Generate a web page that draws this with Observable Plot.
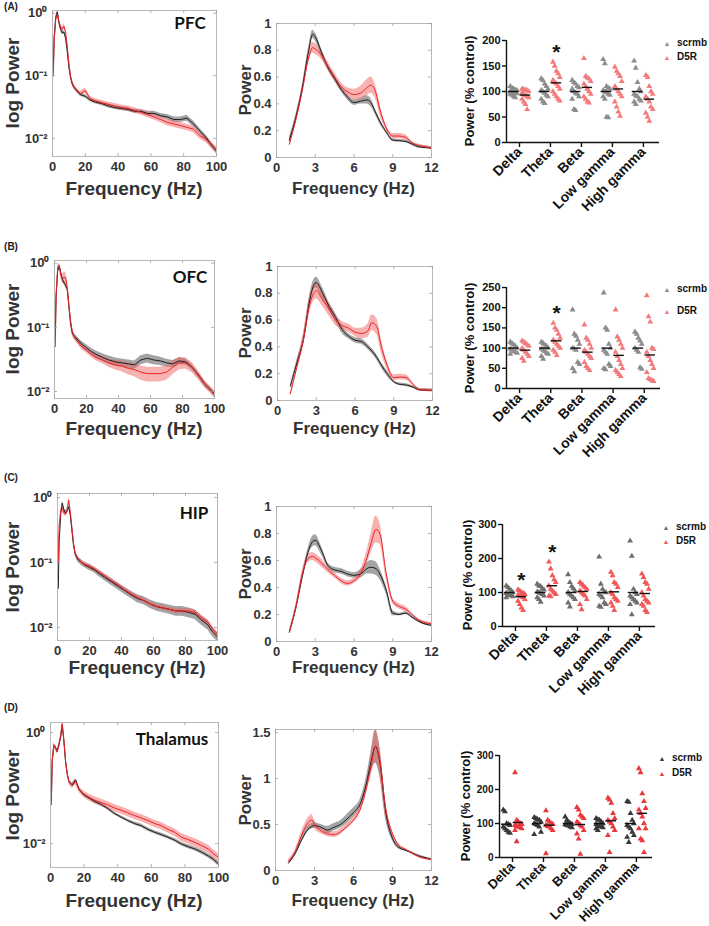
<!DOCTYPE html>
<html><head><meta charset="utf-8">
<script src="https://cdn.jsdelivr.net/npm/d3@7"></script>
<script src="https://cdn.jsdelivr.net/npm/@observablehq/plot@0.6"></script>
<style>
body{margin:0;background:#fff;}
#fig{position:relative;width:709px;height:926px;overflow:hidden;background:#fff;}
</style></head><body><div id="fig"></div>
<script>
// ---------- DATA ----------
const bandNames = ["Delta","Theta","Beta","Low gamma","High gamma"];
const regionNames = ["PFC","OFC","HIP","Thalamus"];
const panelLetters = ["(A)","(B)","(C)","(D)"];
const groupNames = ["scrmb","D5R"];

const logFreq = [0.5,1,2,3,4,5,6,7,8,9,10,11,12,13,15,17,20,23,26,30,34,38,42,46,50,54,58,62,66,70,74,78,82,86,90,94,97,100];
const linFreq = [1,1.5,2,2.5,2.8,3,3.5,4,4.5,5,5.5,6,6.5,7,7.3,7.7,8,8.5,9,9.5,10,10.5,11,11.5,12];

// log spectra (mean, relative SEM)
const pfcLogScr = [0.12,0.4,0.85,1.05,0.7,0.55,0.48,0.5,0.4,0.25,0.14,0.095,0.075,0.066,0.057,0.05,0.047,0.041,0.038,0.036,0.033,0.031,0.030,0.029,0.027,0.027,0.025,0.025,0.023,0.022,0.020,0.020,0.021,0.017,0.013,0.010,0.0078,0.0063];
const pfcLogScrSem = [0.05,0.05,0.06,0.06,0.06,0.06,0.06,0.06,0.06,0.06,0.06,0.06,0.06,0.06,0.06,0.06,0.06,0.06,0.06,0.07,0.07,0.07,0.07,0.07,0.07,0.07,0.08,0.08,0.08,0.09,0.10,0.10,0.11,0.11,0.10,0.10,0.10,0.10];
const pfcLogD5r = [0.1,0.35,0.8,0.95,0.72,0.6,0.55,0.62,0.5,0.3,0.16,0.1,0.078,0.068,0.058,0.052,0.058,0.043,0.040,0.037,0.035,0.033,0.031,0.030,0.028,0.026,0.024,0.022,0.020,0.018,0.017,0.016,0.015,0.014,0.011,0.0095,0.0078,0.0065];
const pfcLogD5rSem = [0.08,0.08,0.08,0.08,0.08,0.08,0.09,0.10,0.10,0.08,0.08,0.08,0.08,0.08,0.08,0.08,0.10,0.08,0.08,0.09,0.09,0.09,0.10,0.10,0.10,0.10,0.10,0.11,0.11,0.12,0.12,0.12,0.12,0.12,0.12,0.12,0.12,0.12];

const ofcLogScr = [0.08,0.3,0.75,0.92,0.7,0.55,0.5,0.45,0.4,0.22,0.12,0.085,0.075,0.07,0.062,0.055,0.048,0.042,0.038,0.034,0.031,0.029,0.028,0.027,0.026,0.031,0.033,0.031,0.030,0.028,0.027,0.030,0.029,0.024,0.018,0.013,0.011,0.0092];
const ofcLogScrSem = [0.08,0.08,0.08,0.08,0.08,0.08,0.08,0.08,0.08,0.08,0.1,0.1,0.1,0.1,0.1,0.1,0.12,0.12,0.13,0.14,0.15,0.15,0.15,0.15,0.15,0.16,0.16,0.16,0.15,0.14,0.13,0.12,0.11,0.1,0.1,0.1,0.1,0.1];
const ofcLogD5r = [0.05,0.3,0.85,0.9,0.65,0.58,0.6,0.6,0.42,0.22,0.13,0.09,0.075,0.068,0.058,0.05,0.044,0.038,0.034,0.031,0.028,0.026,0.025,0.023,0.022,0.020,0.019,0.019,0.019,0.020,0.024,0.028,0.028,0.024,0.018,0.013,0.011,0.009];
const ofcLogD5rSem = [0.1,0.1,0.1,0.1,0.12,0.15,0.2,0.22,0.18,0.12,0.1,0.1,0.1,0.1,0.1,0.1,0.1,0.1,0.12,0.13,0.15,0.17,0.19,0.21,0.23,0.25,0.26,0.26,0.26,0.25,0.24,0.22,0.2,0.18,0.15,0.13,0.12,0.12];

const hipLogScr = [0.04,0.2,0.55,0.82,0.65,0.58,0.62,0.72,0.55,0.32,0.19,0.14,0.12,0.11,0.1,0.092,0.084,0.077,0.068,0.058,0.05,0.043,0.037,0.032,0.028,0.026,0.023,0.021,0.020,0.019,0.018,0.018,0.017,0.016,0.013,0.011,0.0085,0.0072];
const hipLogScrSem = [0.1,0.1,0.08,0.08,0.08,0.08,0.08,0.08,0.08,0.08,0.08,0.08,0.09,0.09,0.1,0.1,0.1,0.1,0.11,0.11,0.12,0.12,0.13,0.13,0.14,0.14,0.15,0.15,0.16,0.16,0.17,0.17,0.17,0.17,0.17,0.17,0.16,0.15];
const hipLogD5r = [0.1,0.35,0.62,0.68,0.58,0.55,0.62,0.92,0.6,0.35,0.2,0.14,0.125,0.115,0.1,0.094,0.088,0.08,0.071,0.061,0.052,0.045,0.038,0.033,0.029,0.026,0.023,0.021,0.020,0.019,0.018,0.018,0.018,0.017,0.014,0.012,0.0095,0.0078];
const hipLogD5rSem = [0.08,0.08,0.07,0.07,0.07,0.07,0.07,0.08,0.08,0.07,0.07,0.07,0.07,0.07,0.07,0.07,0.08,0.08,0.08,0.08,0.08,0.08,0.08,0.08,0.08,0.08,0.08,0.08,0.08,0.08,0.09,0.09,0.09,0.09,0.1,0.1,0.1,0.1];

const thalLogScr = [0.06,0.3,0.58,0.55,0.45,0.6,0.8,1.35,0.7,0.3,0.18,0.13,0.12,0.115,0.14,0.095,0.075,0.066,0.058,0.051,0.043,0.035,0.030,0.026,0.023,0.021,0.018,0.016,0.0145,0.013,0.0115,0.0098,0.0088,0.008,0.007,0.006,0.0052,0.0043];
const thalLogScrSem = [0.06,0.06,0.06,0.06,0.06,0.06,0.06,0.06,0.06,0.06,0.06,0.06,0.06,0.06,0.06,0.06,0.06,0.06,0.06,0.06,0.06,0.06,0.06,0.06,0.07,0.07,0.07,0.07,0.07,0.07,0.07,0.08,0.08,0.08,0.08,0.08,0.08,0.08];
const thalLogD5r = [0.05,0.3,0.6,0.52,0.45,0.58,0.85,1.45,0.72,0.3,0.18,0.13,0.12,0.11,0.13,0.095,0.077,0.068,0.061,0.055,0.05,0.044,0.040,0.036,0.032,0.029,0.026,0.023,0.021,0.018,0.016,0.013,0.0118,0.0105,0.0092,0.008,0.0066,0.0056];
const thalLogD5rSem = [0.1,0.1,0.1,0.1,0.1,0.1,0.1,0.1,0.1,0.1,0.1,0.1,0.12,0.12,0.12,0.12,0.13,0.14,0.15,0.15,0.15,0.15,0.15,0.15,0.15,0.15,0.15,0.15,0.15,0.15,0.16,0.16,0.16,0.17,0.17,0.17,0.18,0.18];

// linear spectra 1-12 Hz (mean, SEM)
const pfcLinScr = [0.13,0.3,0.52,0.8,0.92,0.9,0.78,0.67,0.59,0.51,0.45,0.41,0.42,0.43,0.41,0.33,0.27,0.19,0.13,0.125,0.12,0.1,0.08,0.075,0.07];
const pfcLinScrSem = [0.02,0.02,0.02,0.03,0.03,0.03,0.03,0.02,0.02,0.02,0.02,0.02,0.02,0.03,0.03,0.02,0.02,0.01,0.01,0.01,0.01,0.01,0.01,0.01,0.01];
const pfcLinD5r = [0.1,0.28,0.5,0.75,0.82,0.81,0.76,0.68,0.6,0.53,0.49,0.47,0.48,0.52,0.54,0.48,0.36,0.22,0.16,0.16,0.15,0.11,0.09,0.08,0.07];
const pfcLinD5rSem = [0.02,0.02,0.03,0.04,0.04,0.04,0.03,0.03,0.03,0.03,0.03,0.04,0.05,0.06,0.06,0.05,0.04,0.02,0.02,0.02,0.02,0.01,0.01,0.01,0.01];

const ofcLinScr = [0.107,0.28,0.45,0.75,0.86,0.88,0.8,0.7,0.62,0.53,0.48,0.45,0.44,0.4,0.37,0.32,0.27,0.2,0.14,0.12,0.115,0.1,0.08,0.077,0.075];
const ofcLinScrSem = [0.01,0.02,0.03,0.04,0.04,0.04,0.04,0.03,0.03,0.03,0.02,0.02,0.02,0.02,0.02,0.02,0.02,0.02,0.01,0.01,0.01,0.01,0.01,0.01,0.01];
const ofcLinD5r = [0.05,0.25,0.45,0.72,0.8,0.82,0.75,0.68,0.6,0.56,0.54,0.51,0.5,0.52,0.58,0.55,0.42,0.26,0.17,0.175,0.17,0.12,0.08,0.077,0.075];
const ofcLinD5rSem = [0.01,0.03,0.05,0.06,0.06,0.06,0.05,0.05,0.04,0.03,0.03,0.03,0.04,0.05,0.06,0.06,0.05,0.03,0.02,0.02,0.02,0.01,0.01,0.01,0.01];

const hipLinScr = [0.07,0.25,0.48,0.68,0.74,0.75,0.67,0.56,0.53,0.52,0.5,0.49,0.5,0.54,0.55,0.54,0.5,0.38,0.21,0.2,0.21,0.18,0.15,0.13,0.12];
const hipLinScrSem = [0.01,0.02,0.02,0.03,0.04,0.04,0.03,0.02,0.02,0.02,0.02,0.02,0.03,0.04,0.05,0.05,0.04,0.03,0.02,0.01,0.01,0.01,0.01,0.01,0.01];
const hipLinD5r = [0.07,0.25,0.5,0.62,0.63,0.62,0.58,0.53,0.49,0.45,0.43,0.45,0.5,0.62,0.72,0.83,0.8,0.5,0.3,0.26,0.24,0.2,0.16,0.14,0.13];
const hipLinD5rSem = [0.01,0.02,0.03,0.03,0.03,0.03,0.03,0.02,0.02,0.02,0.02,0.02,0.03,0.05,0.07,0.1,0.08,0.04,0.02,0.02,0.02,0.01,0.01,0.01,0.01];

const thalLinScr = [0.08,0.18,0.33,0.45,0.48,0.49,0.47,0.44,0.47,0.5,0.56,0.63,0.72,0.95,1.15,1.35,1.2,0.62,0.35,0.25,0.22,0.19,0.16,0.14,0.12];
const thalLinScrSem = [0.01,0.02,0.03,0.03,0.03,0.03,0.03,0.04,0.04,0.04,0.05,0.05,0.05,0.07,0.1,0.18,0.16,0.08,0.03,0.02,0.01,0.01,0.01,0.01,0.01];
const thalLinD5r = [0.1,0.2,0.38,0.52,0.55,0.5,0.43,0.4,0.39,0.42,0.48,0.55,0.66,0.9,1.1,1.35,1.22,0.65,0.4,0.27,0.23,0.19,0.15,0.13,0.12];
const thalLinD5rSem = [0.02,0.02,0.04,0.05,0.06,0.05,0.03,0.03,0.03,0.03,0.03,0.03,0.04,0.06,0.1,0.18,0.16,0.08,0.03,0.02,0.01,0.01,0.01,0.01,0.01];

// band power (% control), individual animals, per band
const pfcScrPts = [[110,107,105,103,102,100,99,98,97,96,95,93,90,88],[125,122,115,110,105,102,100,97,93,90,85,80,77],[122,118,115,110,108,105,100,97,95,90,85,65,63],[163,155,110,107,105,102,100,98,95,93,90,85,50,49],[160,146,118,105,100,95,92,90,85,82,80,75]];
const pfcD5rPts = [[105,104,103,102,100,97,95,92,90,88,85,80,75,65],[158,150,140,135,128,122,118,115,110,105,100,95,90,85,82],[165,130,127,125,120,115,110,105,100,95,90,85,80,78],[148,140,135,130,120,110,105,100,95,90,80,70,60,52],[132,128,110,100,95,90,85,80,70,65,58,50,42]];
const pfcScrMean = [100,100,100,100,100];
const pfcD5rMean = [93,117,108,105,85];
const pfcSig = [0,1,0,0,0];

const ofcScrPts = [[115,112,108,105,100,98,95,92,90,88,85],[115,112,108,105,100,98,95,92,88,85,80,73],[195,135,130,120,110,100,98,95,65,60,50,42],[237,150,145,110,100,95,90,85,60,55,50,47],[140,135,125,118,110,100,95,90,52,48]];
const ofcD5rPts = [[118,115,112,108,105,100,95,90,85,80,75,68],[162,150,145,135,125,120,115,110,105,100,95,90,82],[158,125,120,110,100,95,90,85,80,75,65,55,50,45],[195,128,120,110,100,90,80,70,60,50,45,40,35,30],[230,178,165,100,97,90,80,70,60,50,40,25,22,20,18]];
const ofcScrMean = [100,100,100,100,100];
const ofcD5rMean = [95,118,90,82,83];
const ofcSig = [0,1,0,0,0];

const hipScrPts = [[120,115,110,105,100,98,95,92,90,88,85],[125,120,118,112,108,102,100,98,95,90,85,80,72],[153,130,118,112,105,100,95,90,85,80,70,58],[205,125,110,102,100,95,90,85,70,65,60,57],[252,207,110,100,95,90,85,80,75,70,65,35]];
const hipD5rPts = [[108,105,100,98,95,92,90,88,85,80,75,65,55,48],[190,170,150,138,130,120,110,105,100,95,90,88],[130,125,120,115,110,105,100,95,90,80,65,50],[160,150,130,125,115,100,95,85,80,75,70,60,48],[155,145,130,125,110,100,90,80,75,70,65,60,48,42]];
const hipScrMean = [100,100,100,100,100];
const hipD5rMean = [88,120,103,102,97];
const hipSig = [1,1,0,0,0];

const thalScrPts = [[140,135,100,98,95,90,85,80,75,72],[118,115,112,110,105,100,98,95,90,75,68],[120,110,105,100,98,97,95,93,90,88],[115,112,110,105,100,98,95,92,90,88,85,80],[165,163,130,110,100,95,90,85,75,65,60,45]];
const thalD5rPts = [[250,110,105,100,98,95,92,90,88,85,80,47],[138,110,105,100,98,95,92,90,85,80,12],[148,140,125,120,115,105,100,95,90,80,70,55,10],[175,170,160,130,115,110,105,100,90,80,65,15],[262,250,188,165,145,140,130,120,100,85,85,55,50,15]];
const thalScrMean = [98,100,100,100,100];
const thalD5rMean = [103,95,97,108,130];
const thalSig = [0,0,0,0,0];

// ---------- LAYOUT / STYLE ----------
const FONT = '"Liberation Sans", Arial, Helvetica, sans-serif';
const fig = document.getElementById("fig");

const rows = [
  {log:[52,10,216,156], logDom:[10**-2.29,10**0.043], logTicks:[0.01,0.1,1],
   lin:[276,23,431,157], linDom:[0,1], linTicks:[0,0.2,0.4,0.6,0.8,1],
   sc:[506,40,659,142], scMax:200, scTicks:[0,50,100,150,200], scFont:11, catFont:14, scTitleX:469,
   leg:[667,43,57], region:[190,22], freqY:188, letterY:7, colors:["#8c8c8c","#f47b7b"],
   spec:[logFreq,pfcLogScr,pfcLogScrSem,pfcLogD5r,pfcLogD5rSem], lspec:[linFreq,pfcLinScr,pfcLinScrSem,pfcLinD5r,pfcLinD5rSem],
   pts:[pfcScrPts,pfcD5rPts,pfcScrMean,pfcD5rMean,pfcSig]},
  {log:[54,260,214,398], logDom:[10**-2.109,10**0.042], logTicks:[0.01,0.1,1],
   lin:[277,266,432,400], linDom:[0,1], linTicks:[0,0.2,0.4,0.6,0.8,1],
   sc:[506,287,660,388], scMax:250, scTicks:[0,50,100,150,200,250], scFont:11, catFont:14, scTitleX:469,
   leg:[667,289,311], region:[190,276], freqY:428, letterY:247, colors:["#8c8c8c","#f47b7b"],
   spec:[logFreq,ofcLogScr,ofcLogScrSem,ofcLogD5r,ofcLogD5rSem], lspec:[linFreq,ofcLinScr,ofcLinScrSem,ofcLinD5r,ofcLinD5rSem],
   pts:[ofcScrPts,ofcD5rPts,ofcScrMean,ofcD5rMean,ofcSig]},
  {log:[57,493,217,640], logDom:[10**-2.2,10**0.062], logTicks:[0.01,0.1,1],
   lin:[276,506,431,641], linDom:[0,1], linTicks:[0,0.2,0.4,0.6,0.8,1],
   sc:[502,524,655,626], scMax:300, scTicks:[0,100,200,300], scFont:11, catFont:14, scTitleX:467,
   leg:[666,527,541], region:[194,512], freqY:667, letterY:478, colors:["#6e6e6e","#f25858"],
   spec:[logFreq,hipLogScr,hipLogScrSem,hipLogD5r,hipLogD5rSem], lspec:[linFreq,hipLinScr,hipLinScrSem,hipLinD5r,hipLinD5rSem],
   pts:[hipScrPts,hipD5rPts,hipScrMean,hipD5rMean,hipSig]},
  {log:[50,722,218,867], logDom:[10**-2.43,10**0.18], logTicks:[0.01,1],
   lin:[275,729,431,870], linDom:[0,1.533], linTicks:[0,0.5,1,1.5],
   sc:[499,755,652,857], scMax:300, scTicks:[0,100,200,300], scFont:10, catFont:13, scTitleX:465,
   leg:[662,758,773], region:[172,738], freqY:900, letterY:708, colors:["#383838","#e8383d"],
   spec:[logFreq,thalLogScr,thalLogScrSem,thalLogD5r,thalLogD5rSem], lspec:[linFreq,thalLinScr,thalLinScrSem,thalLinD5r,thalLinD5rSem],
   pts:[thalScrPts,thalD5rPts,thalScrMean,thalD5rMean,thalSig]}
];

function place(node, left, top) {
  node.style.position = "absolute"; node.style.left = left + "px"; node.style.top = top + "px";
  fig.append(node);
}
function addText(str, x, y, o) {
  const d = document.createElement("div");
  d.textContent = str;
  Object.assign(d.style, {position:"absolute", left:x+"px", top:y+"px", whiteSpace:"nowrap", lineHeight:"1",
    fontFamily:o.family || FONT, fontSize:o.size+"px", fontWeight:o.weight || "bold", color:o.color || "#333",
    transform:`translate(${o.tx ?? -50}%,-50%)` + (o.rot ? " rotate(-90deg)" : "")});
  fig.append(d);
}
const supers = {"0.01":"10\u207B\u00B2","0.1":"10\u207B\u00B9","1":"10\u2070"};

function spectrum(box, data, cfg) {
  const [freq, scr, scrSem, d5r, d5rSem] = data;
  const [x0,y0,x1,y1] = box, fw = x1-x0, fh = y1-y0;
  const mL=46, mR=10, mT=8, mB=26;
  const mk = (m, s) => freq.map((f,i) => ({f, m:m[i],
    lo: cfg.log ? m[i]*(1-s[i]) : Math.max(0, m[i]-s[i]),
    hi: cfg.log ? m[i]*(1+s[i]) : m[i]+s[i]}));
  const S = mk(scr, scrSem), D = mk(d5r, d5rSem);
  const curve = cfg.log ? "linear" : "monotone-x";
  const tk = {stroke:"#a0a0a0", strokeWidth:0.8};
  const svg = Plot.plot({
    width: fw+mL+mR, height: fh+mT+mB, marginLeft:mL, marginRight:mR, marginTop:mT, marginBottom:mB,
    style:{background:"transparent", overflow:"visible", fontFamily:FONT, fontSize:"13px", fontWeight:"bold", color:"#333"},
    x:{domain:cfg.xDom}, y:{type: cfg.log ? "log" : "linear", domain:cfg.yDom},
    marks:[
      Plot.areaY(S, {x:"f", y1:"lo", y2:"hi", fill:"#7d7d7d", fillOpacity:0.7, clip:true, curve}),
      Plot.areaY(D, {x:"f", y1:"lo", y2:"hi", fill:"#f26464", fillOpacity:0.5, clip:true, curve}),
      Plot.lineY(S, {x:"f", y:"m", stroke:"#1e1e1e", strokeWidth:1, clip:true, curve}),
      Plot.lineY(D, {x:"f", y:"m", stroke:"#ec2227", strokeWidth:1, clip:true, curve}),
      Plot.frame({stroke:"#b8b8b8"}),
      Plot.tickX(cfg.xTicks, {x:d=>d, insetTop:fh-3, ...tk}),
      Plot.tickX(cfg.xTicks, {x:d=>d, insetBottom:fh-3, ...tk}),
      Plot.tickY(cfg.yTicks, {y:d=>d, insetRight:fw-3, ...tk}),
      Plot.tickY(cfg.yTicks, {y:d=>d, insetLeft:fw-3, ...tk}),
      Plot.axisX({ticks:cfg.xTicks, tickSize:0, tickPadding:5, label:null, tickFormat:d=>String(d)}),
      Plot.axisY({ticks:cfg.yTicks, tickSize:0, tickPadding:5, label:null, tickFormat:cfg.yFormat})
    ]
  });
  place(svg, x0-mL, y0-mT);
}

function scatter(box, data, cfg) {
  const [scrPts, d5rPts, scrMean, d5rMean, sig] = data;
  const [x0,yT,x1,yB] = box;
  const mL=40, mR=6, mT=10, mB=66;
  const off = 0.19, xDom = [-0.42, 4.52];
  const mkPts = (arr, s) => arr.flatMap((vals,b) => vals.map((v,i) => ({x: b + s*off + ((i%5)-2)*0.055, v})));
  const P0 = mkPts(scrPts, -1), P1 = mkPts(d5rPts, 1);
  const means = [...scrMean.map((m,b)=>({x:b-off, m})), ...d5rMean.map((m,b)=>({x:b+off, m}))];
  const stars = sig.map((s,b) => s ? {x:b+off, v:d3.max(d5rPts[b])} : null).filter(Boolean);
  const svg = Plot.plot({
    width:(x1-x0)+mL+mR, height:(yB-yT)+mT+mB, marginLeft:mL, marginRight:mR, marginTop:mT, marginBottom:mB,
    style:{background:"transparent", overflow:"visible", fontFamily:FONT, fontSize:cfg.font+"px", fontWeight:"bold", color:"#111"},
    x:{domain:xDom}, y:{domain:[0,cfg.max]},
    marks:[
      Plot.dot(P0, {x:"x", y:"v", symbol:"triangle", r:2.2, fill:cfg.colors[0]}),
      Plot.dot(P1, {x:"x", y:"v", symbol:"triangle", r:2.2, fill:cfg.colors[1]}),
      Plot.ruleY(means, {y:"m", x1:d=>d.x-0.17, x2:d=>d.x+0.17, stroke:"#111", strokeWidth:1.4}),
      Plot.text(stars, {x:"x", y:"v", text:()=>"*", dy:-10, fontSize:21, fontWeight:"bold", fill:"#111"}),
      Plot.ruleX([xDom[0]], {y1:0, y2:cfg.max, stroke:"#111", strokeWidth:1.4}),
      Plot.ruleY([0], {stroke:"#111", strokeWidth:1.4}),
      Plot.axisY({ticks:cfg.ticks, tickSize:4, tickPadding:2, label:null, strokeWidth:1.4, tickFormat:d=>String(d)}),
      Plot.axisX({ticks:[0,1,2,3,4], tickFormat:i=>bandNames[i], tickRotate:-45, tickSize:5, tickPadding:2,
                  label:null, strokeWidth:1.4, fontSize:cfg.catFont})
    ]
  });
  place(svg, x0-mL, yT-mT);
}

rows.forEach((r, k) => {
  spectrum(r.log, r.spec, {log:true, xDom:[0,100], xTicks:[0,20,40,60,80,100], yDom:r.logDom, yTicks:r.logTicks, yFormat:d=>supers[String(d)]});
  spectrum(r.lin, r.lspec, {log:false, xDom:[0,12], xTicks:[0,3,6,9,12], yDom:r.linDom, yTicks:r.linTicks, yFormat:d=>String(d)});
  scatter(r.sc, r.pts, {max:r.scMax, ticks:r.scTicks, colors:r.colors, font:r.scFont, catFont:r.catFont});

  // texts
  addText(panelLetters[k], 11, r.letterY, {size:10, color:"#222"});
  addText(regionNames[k], r.region[0], r.region[1], {size:17, family:'Lato, "Open Sans", sans-serif', color:"#111"});
  addText("log Power", 12, (r.log[1]+r.log[3])/2, {size:19, rot:true});
  addText("Power", 245, (r.lin[1]+r.lin[3])/2, {size:17, rot:true});
  addText("Frequency (Hz)", (r.log[0]+r.log[2])/2, r.freqY, {size:19});
  addText("Frequency (Hz)", (r.lin[0]+r.lin[2])/2, r.freqY, {size:17});
  addText("Power (% control)", r.scTitleX, (r.sc[1]+r.sc[3])/2, {size:13, rot:true, color:"#111"});
  // legend
  groupNames.forEach((g, j) => {
    addText("\u25B2", r.leg[0], r.leg[1+j], {size:7, color:r.colors[j], weight:"normal"});
    addText(g, r.leg[0]+10, r.leg[1+j], {size:10, tx:0, color:"#111"});
  });
});
</script></body></html>
